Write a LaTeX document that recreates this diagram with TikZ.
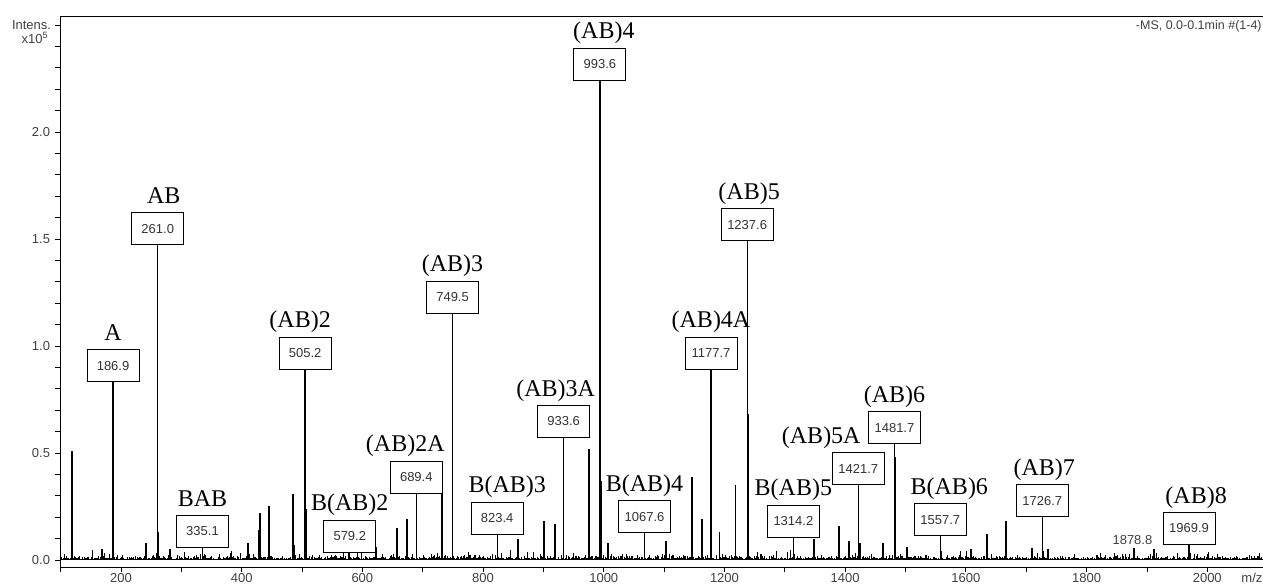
\documentclass[tikz,border=0pt]{standalone}
\usepackage{fontspec}
\setmainfont{Liberation Serif}
\setsansfont{Liberation Sans}
\usetikzlibrary{positioning}

\tikzset{
  peak/.style={line width=1.3pt},
  noise/.style={line width=0.7pt},
  mzbox/.style={draw, fill=white, line width=1pt, minimum width=52pt,
    minimum height=32pt, inner sep=0pt,
    font=\sffamily\fontsize{13}{13}\selectfont, text=black!80},
  ion/.style={font=\fontsize{24}{24}\selectfont, inner sep=0pt, anchor=base},
  axlabel/.style={font=\sffamily\fontsize{13}{13}\selectfont, text=black!75},
}

\begin{document}
\begin{tikzpicture}
  \useasboundingbox (0,0) rectangle (1263pt,586pt);
  \begin{scope}[shift={(0.25pt,26pt)}, x=0.6035pt, y=214pt]

    % frame
    \draw[line width=1pt] (2095,2.542) -- (100,2.542) -- (100,-0.037) -- (2095,-0.037);

    % intensity axis
    \foreach \k in {0,...,25}
      \draw[line width=0.8pt] (100,\k/10) -- ++(-6pt,0);
    \foreach \v in {0.0,0.5,1.0,1.5,2.0}
      \node[axlabel, anchor=east] at ([xshift=-7pt]100,\v) {\v};
    \node[axlabel, anchor=east] (intens) at ([xshift=-6pt]100,2.5) {Intens.};
    \node[axlabel, anchor=east] (scale) at ([xshift=-9pt]100,2.44) {x10\textsuperscript{5}};

    % m/z axis
    \foreach \k in {1,...,20}
      \draw[line width=0.8pt] (\k*100,-0.037) -- ++(0,-4pt);
    \foreach \m in {200,400,...,2000}
      \node[axlabel] at (\m,-0.084) {\m};
    \node[axlabel] (mz) at (2074,-0.084) {m/z};
    \node[axlabel, anchor=east, font=\sffamily\fontsize{12.5}{12.5}\selectfont]
      (scan) at (2096,2.495) {-MS, 0.0-0.1min \#(1-4)};

    % baseline noise
    \pgfmathsetseed{11}
    \foreach \m in {101,102.2,...,2092} {
      \pgfmathsetmacro\h{0.006+0.045*rnd*rnd*rnd}
      \draw[noise] (\m,0) -- (\m,\h);
    }
    \draw[line width=1.6pt] (100,0.003) -- (2092,0.003);

    % unlabelled peaks
    \foreach \m/\h in {119.0/0.51, 168.7/0.05, 241.6/0.08, 262.5/0.13, 281.3/0.05,
        410.6/0.08, 428.8/0.14, 430.5/0.22, 445.4/0.25, 485.2/0.31, 486.8/0.07,
        507.0/0.24, 622.7/0.06, 657.5/0.15, 674.2/0.19, 732.0/0.43, 857.9/0.10,
        901.1/0.18, 919.3/0.17, 975.6/0.52, 995.5/0.37, 1007.1/0.08, 1103.2/0.09,
        1146.3/0.39, 1162.9/0.19, 1179.1/0.51, 1191.3/0.13, 1217.8/0.35,
        1239.4/0.68, 1348.5/0.10, 1389.9/0.16, 1406.5/0.09, 1424.7/0.08,
        1462.8/0.08, 1483.4/0.48, 1502.6/0.06, 1608.6/0.05, 1635.1/0.12,
        1666.6/0.18, 1709.7/0.055, 1736.2/0.05, 1911.8/0.05}
      \draw[peak] (\m,0) -- (\m,\h);

    % labelled peaks
    \foreach \m/\h/\ionname/\dx [count=\i] in {186.9/0.83/A/0, 261.0/1.47/AB/6,
        335.1/0.056/BAB/0, 505.2/0.89/{(AB)2}/-5, 579.2/0.033/{B(AB)2}/0,
        689.4/0.31/{(AB)2A}/-11, 749.5/1.15/{(AB)3}/0, 823.4/0.117/{B(AB)3}/10,
        933.6/0.57/{(AB)3A}/-8, 993.6/2.24/{(AB)4}/4, 1067.6/0.126/{B(AB)4}/0,
        1177.7/0.89/{(AB)4A}/0, 1237.6/1.49/{(AB)5}/2, 1314.2/0.103/{B(AB)5}/0,
        1421.7/0.35/{(AB)5A}/-37, 1481.7/0.54/{(AB)6}/0, 1557.7/0.11/{B(AB)6}/9,
        1726.7/0.2/{(AB)7}/2, 1969.9/0.07/{(AB)8}/7} {
      \coordinate (base\i) at (\m,0);
      \node[mzbox, anchor=south] (box\i) at (\m,\h) {\m};
      \node[ion] (ion\i) at ([xshift=\dx pt, yshift=9pt]box\i.north) {\ionname};
      \draw[peak] (base\i) -- (box\i);
    }

    % small peak with a bare tag
    \coordinate (base1878) at (1878.8,0);
    \coordinate (top1878) at (1878.8,0.056);
    \draw[peak] (base1878) -- (top1878);
    \node[axlabel, anchor=south, inner sep=2pt] (tag1878) at (1876,0.06) {1878.8};

  \end{scope}
\end{tikzpicture}
\end{document}
